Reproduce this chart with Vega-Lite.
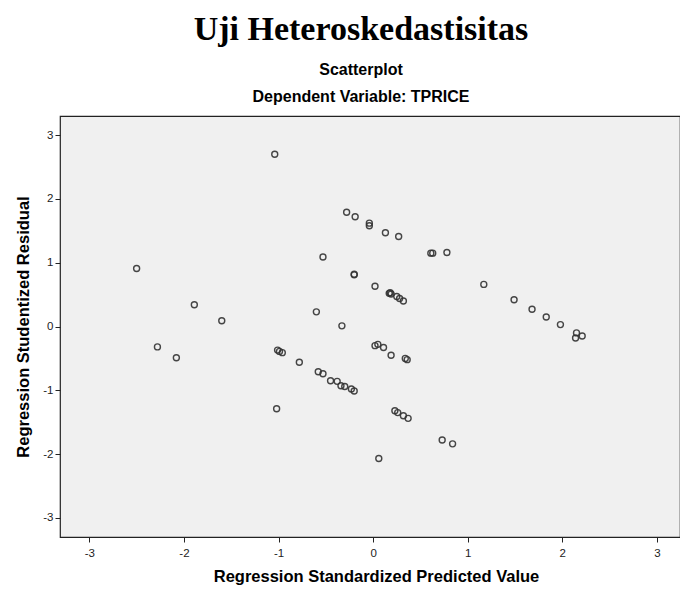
{
  "$schema": "https://vega.github.io/schema/vega-lite/v6.json",
  "width": 620,
  "height": 421,
  "autosize": {"type": "none"},
  "padding": {"left": 60, "top": 116, "right": 0, "bottom": 53},
  "background": "#ffffff",
  "title": {
    "text": "Uji Heteroskedastisitas",
    "subtitle": ["Scatterplot", "Dependent Variable: TPRICE"],
    "anchor": "middle",
    "frame": "group",
    "dx": -9,
    "offset": 11,
    "font": "Liberation Serif",
    "fontSize": 34,
    "fontWeight": "bold",
    "color": "#000000",
    "subtitleFont": "Liberation Sans",
    "subtitleFontSize": 16,
    "subtitleFontWeight": "bold",
    "subtitleColor": "#000000",
    "subtitleLineHeight": 27,
    "subtitlePadding": 15
  },
  "config": {
    "view": {"fill": "#f0f0f0", "stroke": "#222222", "strokeWidth": 1.2},
    "axis": {
      "grid": false,
      "domain": false,
      "labelFont": "Liberation Sans",
      "labelFontSize": 11.5,
      "labelColor": "#222222",
      "tickColor": "#222222",
      "tickSize": 5,
      "tickWidth": 1,
      "titleFont": "Liberation Sans",
      "titleFontSize": 16.5,
      "titleFontWeight": "bold",
      "titleColor": "#000000",
      "labelExpr": "datum.value < 0 ? '-' + abs(datum.value) : '' + datum.value"
    }
  },
  "data": {
    "values": [
      {"pred": -2.50, "resid": 0.91},
      {"pred": -1.89, "resid": 0.34},
      {"pred": -1.60, "resid": 0.09},
      {"pred": -2.28, "resid": -0.32},
      {"pred": -2.08, "resid": -0.49},
      {"pred": -1.04, "resid": 2.70},
      {"pred": -0.28, "resid": 1.79},
      {"pred": -0.19, "resid": 1.72},
      {"pred": -0.04, "resid": 1.62},
      {"pred": -0.04, "resid": 1.58},
      {"pred": 0.13, "resid": 1.47},
      {"pred": 0.27, "resid": 1.41},
      {"pred": 0.61, "resid": 1.15},
      {"pred": 0.63, "resid": 1.15},
      {"pred": 0.78, "resid": 1.16},
      {"pred": -0.53, "resid": 1.09},
      {"pred": -0.20, "resid": 0.81},
      {"pred": -0.20, "resid": 0.82},
      {"pred": 0.02, "resid": 0.63},
      {"pred": 0.17, "resid": 0.52},
      {"pred": 0.18, "resid": 0.53},
      {"pred": 0.19, "resid": 0.51},
      {"pred": 0.25, "resid": 0.47},
      {"pred": 0.28, "resid": 0.44},
      {"pred": 0.32, "resid": 0.40},
      {"pred": -0.60, "resid": 0.23},
      {"pred": -0.33, "resid": 0.01},
      {"pred": 1.17, "resid": 0.66},
      {"pred": 1.49, "resid": 0.42},
      {"pred": 1.68, "resid": 0.27},
      {"pred": 1.83, "resid": 0.15},
      {"pred": 1.98, "resid": 0.03},
      {"pred": 2.15, "resid": -0.10},
      {"pred": 2.14, "resid": -0.18},
      {"pred": 2.21, "resid": -0.15},
      {"pred": -1.01, "resid": -0.37},
      {"pred": -0.99, "resid": -0.39},
      {"pred": -0.96, "resid": -0.41},
      {"pred": -0.78, "resid": -0.56},
      {"pred": 0.02, "resid": -0.30},
      {"pred": 0.05, "resid": -0.28},
      {"pred": 0.11, "resid": -0.33},
      {"pred": 0.19, "resid": -0.45},
      {"pred": 0.34, "resid": -0.50},
      {"pred": 0.36, "resid": -0.52},
      {"pred": -0.58, "resid": -0.71},
      {"pred": -0.53, "resid": -0.74},
      {"pred": -0.45, "resid": -0.85},
      {"pred": -0.38, "resid": -0.86},
      {"pred": -0.34, "resid": -0.93},
      {"pred": -0.30, "resid": -0.94},
      {"pred": -0.23, "resid": -0.98},
      {"pred": -0.20, "resid": -1.01},
      {"pred": -1.02, "resid": -1.29},
      {"pred": 0.23, "resid": -1.32},
      {"pred": 0.26, "resid": -1.35},
      {"pred": 0.32, "resid": -1.40},
      {"pred": 0.37, "resid": -1.44},
      {"pred": 0.73, "resid": -1.78},
      {"pred": 0.84, "resid": -1.84},
      {"pred": 0.06, "resid": -2.07}
    ]
  },
  "mark": {"type": "point", "shape": "circle", "filled": false, "size": 36, "stroke": "#333333", "strokeWidth": 1.4, "opacity": 0.9, "clip": true},
  "encoding": {
    "x": {
      "field": "pred",
      "type": "quantitative",
      "scale": {"domain": [-3.31, 3.244], "nice": false, "zero": false},
      "axis": {"values": [-3, -2, -1, 0, 1, 2, 3], "title": "Regression Standardized Predicted Value", "titlePadding": 10, "titleX": 316, "labelPadding": 5}
    },
    "y": {
      "field": "resid",
      "type": "quantitative",
      "scale": {"domain": [-3.3, 3.3], "nice": false, "zero": false},
      "axis": {"values": [-3, -2, -1, 0, 1, 2, 3], "title": "Regression Studentized Residual", "titlePadding": 11, "labelPadding": 2}
    }
  }
}
